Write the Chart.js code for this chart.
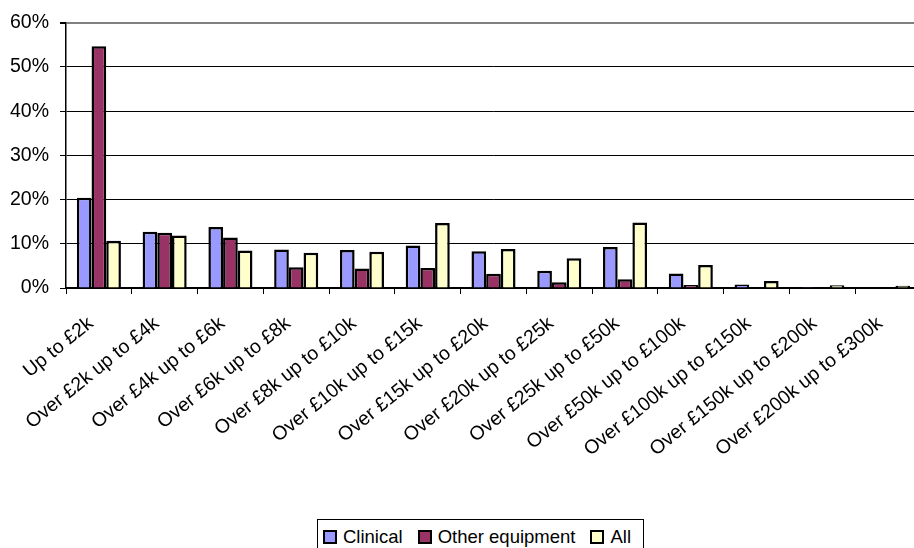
<!DOCTYPE html>
<html>
<head>
<meta charset="utf-8">
<script src="https://cdn.jsdelivr.net/npm/chart.js@4/dist/chart.umd.min.js"></script>
<style>
  html, body { margin: 0; padding: 0; background: #fff; overflow: hidden; }
  #wrap { position: relative; width: 924px; height: 548px; }
  #chart { position: absolute; left: 0; top: 0; }
  #legend {
    position: absolute; left: 317px; top: 519px; width: 327px; height: 40px;
    border: 1px solid #000; background: #fff; box-sizing: border-box;
    font-family: "Liberation Sans", Arial, sans-serif; font-size: 18.5px; color: #000;
    display: flex; align-items: flex-start; padding: 7px 0 0 5px; line-height: 20px;
  }
  #legend .item { display: flex; align-items: center; margin-right: 15px; white-space: nowrap; }
  #legend .box { width: 10px; height: 10px; border: 2px solid #000; margin-right: 6px; }
</style>
</head>
<body>
<div id="wrap">
  <canvas id="chart" width="924" height="548"></canvas>
  <div id="legend"></div>
</div>
<script>
// Cost bands
const categories = [
  "Up to £2k", "Over £2k up to £4k", "Over £4k up to £6k", "Over £6k up to £8k",
  "Over £8k up to £10k", "Over £10k up to £15k", "Over £15k up to £20k",
  "Over £20k up to £25k", "Over £25k up to £50k", "Over £50k up to £100k",
  "Over £100k up to £150k", "Over £150k up to £200k", "Over £200k up to £300k"
];

// Share of items in each band (%)
const clinical = [20.4, 12.7, 13.8, 8.7, 8.6, 9.6, 8.3, 3.9, 9.3, 3.3, 0.8, 0.2, 0];
const otherEquipment = [54.7, 12.5, 11.4, 4.7, 4.4, 4.5, 3.2, 1.3, 2.0, 0.7, 0, 0, 0];
const all = [10.7, 11.9, 8.5, 8.0, 8.2, 14.7, 8.8, 6.7, 14.8, 5.2, 1.6, 0.6, 0.5];

const yTicks = [0, 10, 20, 30, 40, 50, 60];

const seriesNames = ["Clinical", "Other equipment", "All"];
const seriesColors = ["#9999FF", "#993366", "#FFFFCC"];
const seriesData = [clinical, otherEquipment, all];

const FAMILY = '"Liberation Sans", Arial, sans-serif';

const datasets = seriesNames.map((name, i) => ({
  label: name,
  data: seriesData[i],
  backgroundColor: seriesColors[i],
  borderColor: "#000",
  borderWidth: 2.5,
  borderSkipped: "bottom",
  categoryPercentage: 0.67,
  barPercentage: 1.0
}));

new Chart(document.getElementById("chart"), {
  type: "bar",
  data: { labels: categories, datasets },
  options: {
    responsive: false,
    animation: false,
    layout: { padding: { top: 20, right: 3, left: 0, bottom: 0 } },
    plugins: { legend: { display: false }, tooltip: { enabled: false } },
    scales: {
      x: {
        offset: true,
        grid: {
          offset: true,
          drawOnChartArea: false,
          drawTicks: true,
          tickLength: 6,
          color: "#000"
        },
        border: { display: true, color: "#000", width: 1.5 },
        ticks: {
          font: { family: FAMILY, size: 19.5 },
          color: "#000",
          minRotation: 39,
          maxRotation: 39,
          autoSkip: false,
          padding: 18,
          labelOffset: -8
        },
        afterFit(scale) { scale.height = 260; }
      },
      y: {
        min: 0,
        max: 60,
        afterBuildTicks(scale) { scale.ticks = yTicks.map(v => ({ value: v })); },
        grid: {
          drawTicks: true,
          tickLength: 6,
          color: ctx => (ctx.tick && ctx.tick.value === 60 ? "#808080" : "#000"),
          lineWidth: ctx => (ctx.tick && ctx.tick.value === 60 ? 2 : 1),
          tickColor: "#000"
        },
        border: { display: true, color: "#000", width: 1.5 },
        ticks: {
          font: { family: FAMILY, size: 19.5 },
          color: "#000",
          padding: 11,
          callback: v => v + "%"
        },
        afterFit(scale) { scale.width = 66; }
      }
    }
  }
});

// Legend
const legend = document.getElementById("legend");
seriesNames.forEach((name, i) => {
  const item = document.createElement("span");
  item.className = "item";
  const box = document.createElement("span");
  box.className = "box";
  box.style.background = seriesColors[i];
  const txt = document.createElement("span");
  txt.textContent = name;
  item.appendChild(box);
  item.appendChild(txt);
  legend.appendChild(item);
});
</script>
</body>
</html>
